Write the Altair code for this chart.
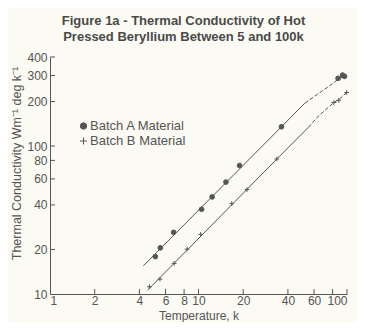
import altair as alt
import pandas as pd

# Batch A (dots) and Batch B (crosses) measured points
a_T = [5.12, 5.53, 6.80, 10.5, 12.35, 15.3, 18.9, 36.2, 87.1, 93.3, 96.2]
a_K = [17.9, 20.5, 26.1, 37.4, 45.3, 57.1, 73.8, 135, 287, 302, 296]
b_T = [4.67, 5.50, 6.86, 8.38, 10.35, 16.75, 21.2, 33.7, 81.6, 88.0, 99.5]
b_K = [11.2, 12.6, 16.1, 20.1, 25.3, 40.8, 50.8, 81.8, 197, 204, 230]

# fitted curves (solid part, then dashed part)
a_solid_T = [4.25, 36.2, 52.0]
a_solid_K = [15.5, 135, 195]
a_dash_T = [52.0, 64.0, 74.6, 87.1, 95.6]
a_dash_K = [195, 226, 251, 282, 296.5]
b_solid_T = [4.54, 33.7, 55.0]
b_solid_K = [10.6, 81.8, 134]
b_dash_T = [55.0, 64.0, 81.6, 88.0, 99.5]
b_dash_K = [134, 159, 197, 206, 230]

x_tick_values = [1, 2, 4, 6, 8, 10, 20, 40, 60, 80, 100]
x_tick_marks = [2, 4, 6, 8, 10, 20, 40, 60, 80, 100]
y_tick_values = [10, 20, 40, 60, 80, 100, 200, 300, 400]
y_tick_marks = [20, 40, 60, 80, 100, 200, 300, 400]

names = ["Batch A Material", "Batch B Material"]
PLUS = "M-1,0L1,0M0,-1L0,1"

pts = pd.DataFrame(
    {"T": a_T + b_T, "K": a_K + b_K,
     "series": [names[0]] * len(a_T) + [names[1]] * len(b_T)}
)
curves = pd.DataFrame(
    {
        "T": a_solid_T + a_dash_T + b_solid_T + b_dash_T,
        "K": a_solid_K + a_dash_K + b_solid_K + b_dash_K,
        "series": ["A"] * (len(a_solid_T) + len(a_dash_T)) + ["B"] * (len(b_solid_T) + len(b_dash_T)),
        "seg": ["solid"] * len(a_solid_T) + ["dash"] * len(a_dash_T)
        + ["solid"] * len(b_solid_T) + ["dash"] * len(b_dash_T),
    }
)
xt = pd.DataFrame({"T": x_tick_marks})
yt = pd.DataFrame({"K": y_tick_marks})

INK = "#555555"
FONT = "Liberation Sans"
W, H = 297, 237
xscale = alt.Scale(type="log", domain=[1, 100], nice=False)
yscale = alt.Scale(type="log", domain=[10, 400], nice=False)

x_axis = alt.Axis(
    values=x_tick_values, tickSize=0, ticks=False, labelPadding=1, labelFontSize=12,
    labelExpr="datum.value == 80 ? '' : datum.label", grid=False,
    title="Temperature, k", titleFontSize=12, titleFontWeight="normal",
    titleX=W / 2, titleY=21.5, titleBaseline="middle",
)
y_axis = alt.Axis(
    values=y_tick_values, tickSize=0, ticks=False, labelPadding=3, labelFontSize=12, grid=False,
    title="Thermal Conductivity Wm⁻¹ deg k⁻¹", titleFontSize=12.5, titleFontWeight="normal",
    titleX=-34, titleY=106, titleAngle=-90, titleAlign="center", titleBaseline="middle",
)

X = alt.X("T:Q", scale=xscale, axis=x_axis)
Y = alt.Y("K:Q", scale=yscale, axis=y_axis)

solid = alt.Chart(curves).transform_filter("datum.seg == 'solid'").mark_line(
    color=INK, strokeWidth=1
).encode(x=X, y=Y, detail="series:N")

dashed = alt.Chart(curves).transform_filter("datum.seg == 'dash'").mark_line(
    color=INK, strokeWidth=1, strokeDash=[4, 2]
).encode(x=X, y=Y, detail="series:N")

points = alt.Chart(pts).mark_point(
    filled=True, fill=INK, stroke=INK, strokeWidth=1, opacity=1
).encode(
    x=X,
    y=Y,
    shape=alt.Shape(
        "series:N",
        scale=alt.Scale(domain=names, range=["circle", PLUS]),
        legend=None,
    ),
    size=alt.value(22),
)

xticks = alt.Chart(xt).mark_rule(color=INK, strokeWidth=1).encode(
    x=X, y=alt.value(H), y2=alt.value(H - 5),
)
yticks = alt.Chart(yt).mark_rule(color=INK, strokeWidth=1).encode(
    y=Y, x=alt.value(0), x2=alt.value(5),
)

# hand-made legend (two entries)
leg_a = pd.DataFrame({"name": [names[0]]})
leg_b = pd.DataFrame({"name": [names[1]]})
leg_sym_a = alt.Chart(leg_a).mark_point(
    shape="circle", filled=True, fill=INK, stroke=INK, strokeWidth=1, size=40, opacity=1
).encode(x=alt.value(33.5), y=alt.value(69))
leg_sym_b = alt.Chart(leg_b).mark_point(
    shape=PLUS, filled=False, stroke=INK, strokeWidth=1, size=49, opacity=1
).encode(x=alt.value(33.5), y=alt.value(84))
leg_txt_a = alt.Chart(leg_a).mark_text(
    align="left", baseline="middle", font=FONT, fontSize=13, color=INK
).encode(text="name:N", x=alt.value(40), y=alt.value(69))
leg_txt_b = alt.Chart(leg_b).mark_text(
    align="left", baseline="middle", font=FONT, fontSize=13, color=INK
).encode(text="name:N", x=alt.value(40), y=alt.value(84))

chart = alt.layer(
    solid, dashed, points, xticks, yticks, leg_sym_a, leg_sym_b, leg_txt_a, leg_txt_b
).properties(
    width=W,
    height=H,
    autosize=alt.AutoSizeParams(type="none"),
    padding={"left": 42, "top": 49, "right": 10, "bottom": 28},
    background="#fbfaf3",
    title=alt.TitleParams(
        text=["Figure 1a - Thermal Conductivity of Hot",
              "Pressed Beryllium Between 5 and 100k"],
        fontSize=13, fontWeight="bold", font=FONT, color="#4a4a4a",
        anchor="middle", dx=-15, offset=7, lineHeight=16,
    ),
).configure_view(stroke=None).configure_axis(
    domainColor=INK, labelColor=INK, titleColor=INK,
    labelFont=FONT, titleFont=FONT,
)

chart.save("out.html", embed_options={"renderer": "svg", "actions": False})
